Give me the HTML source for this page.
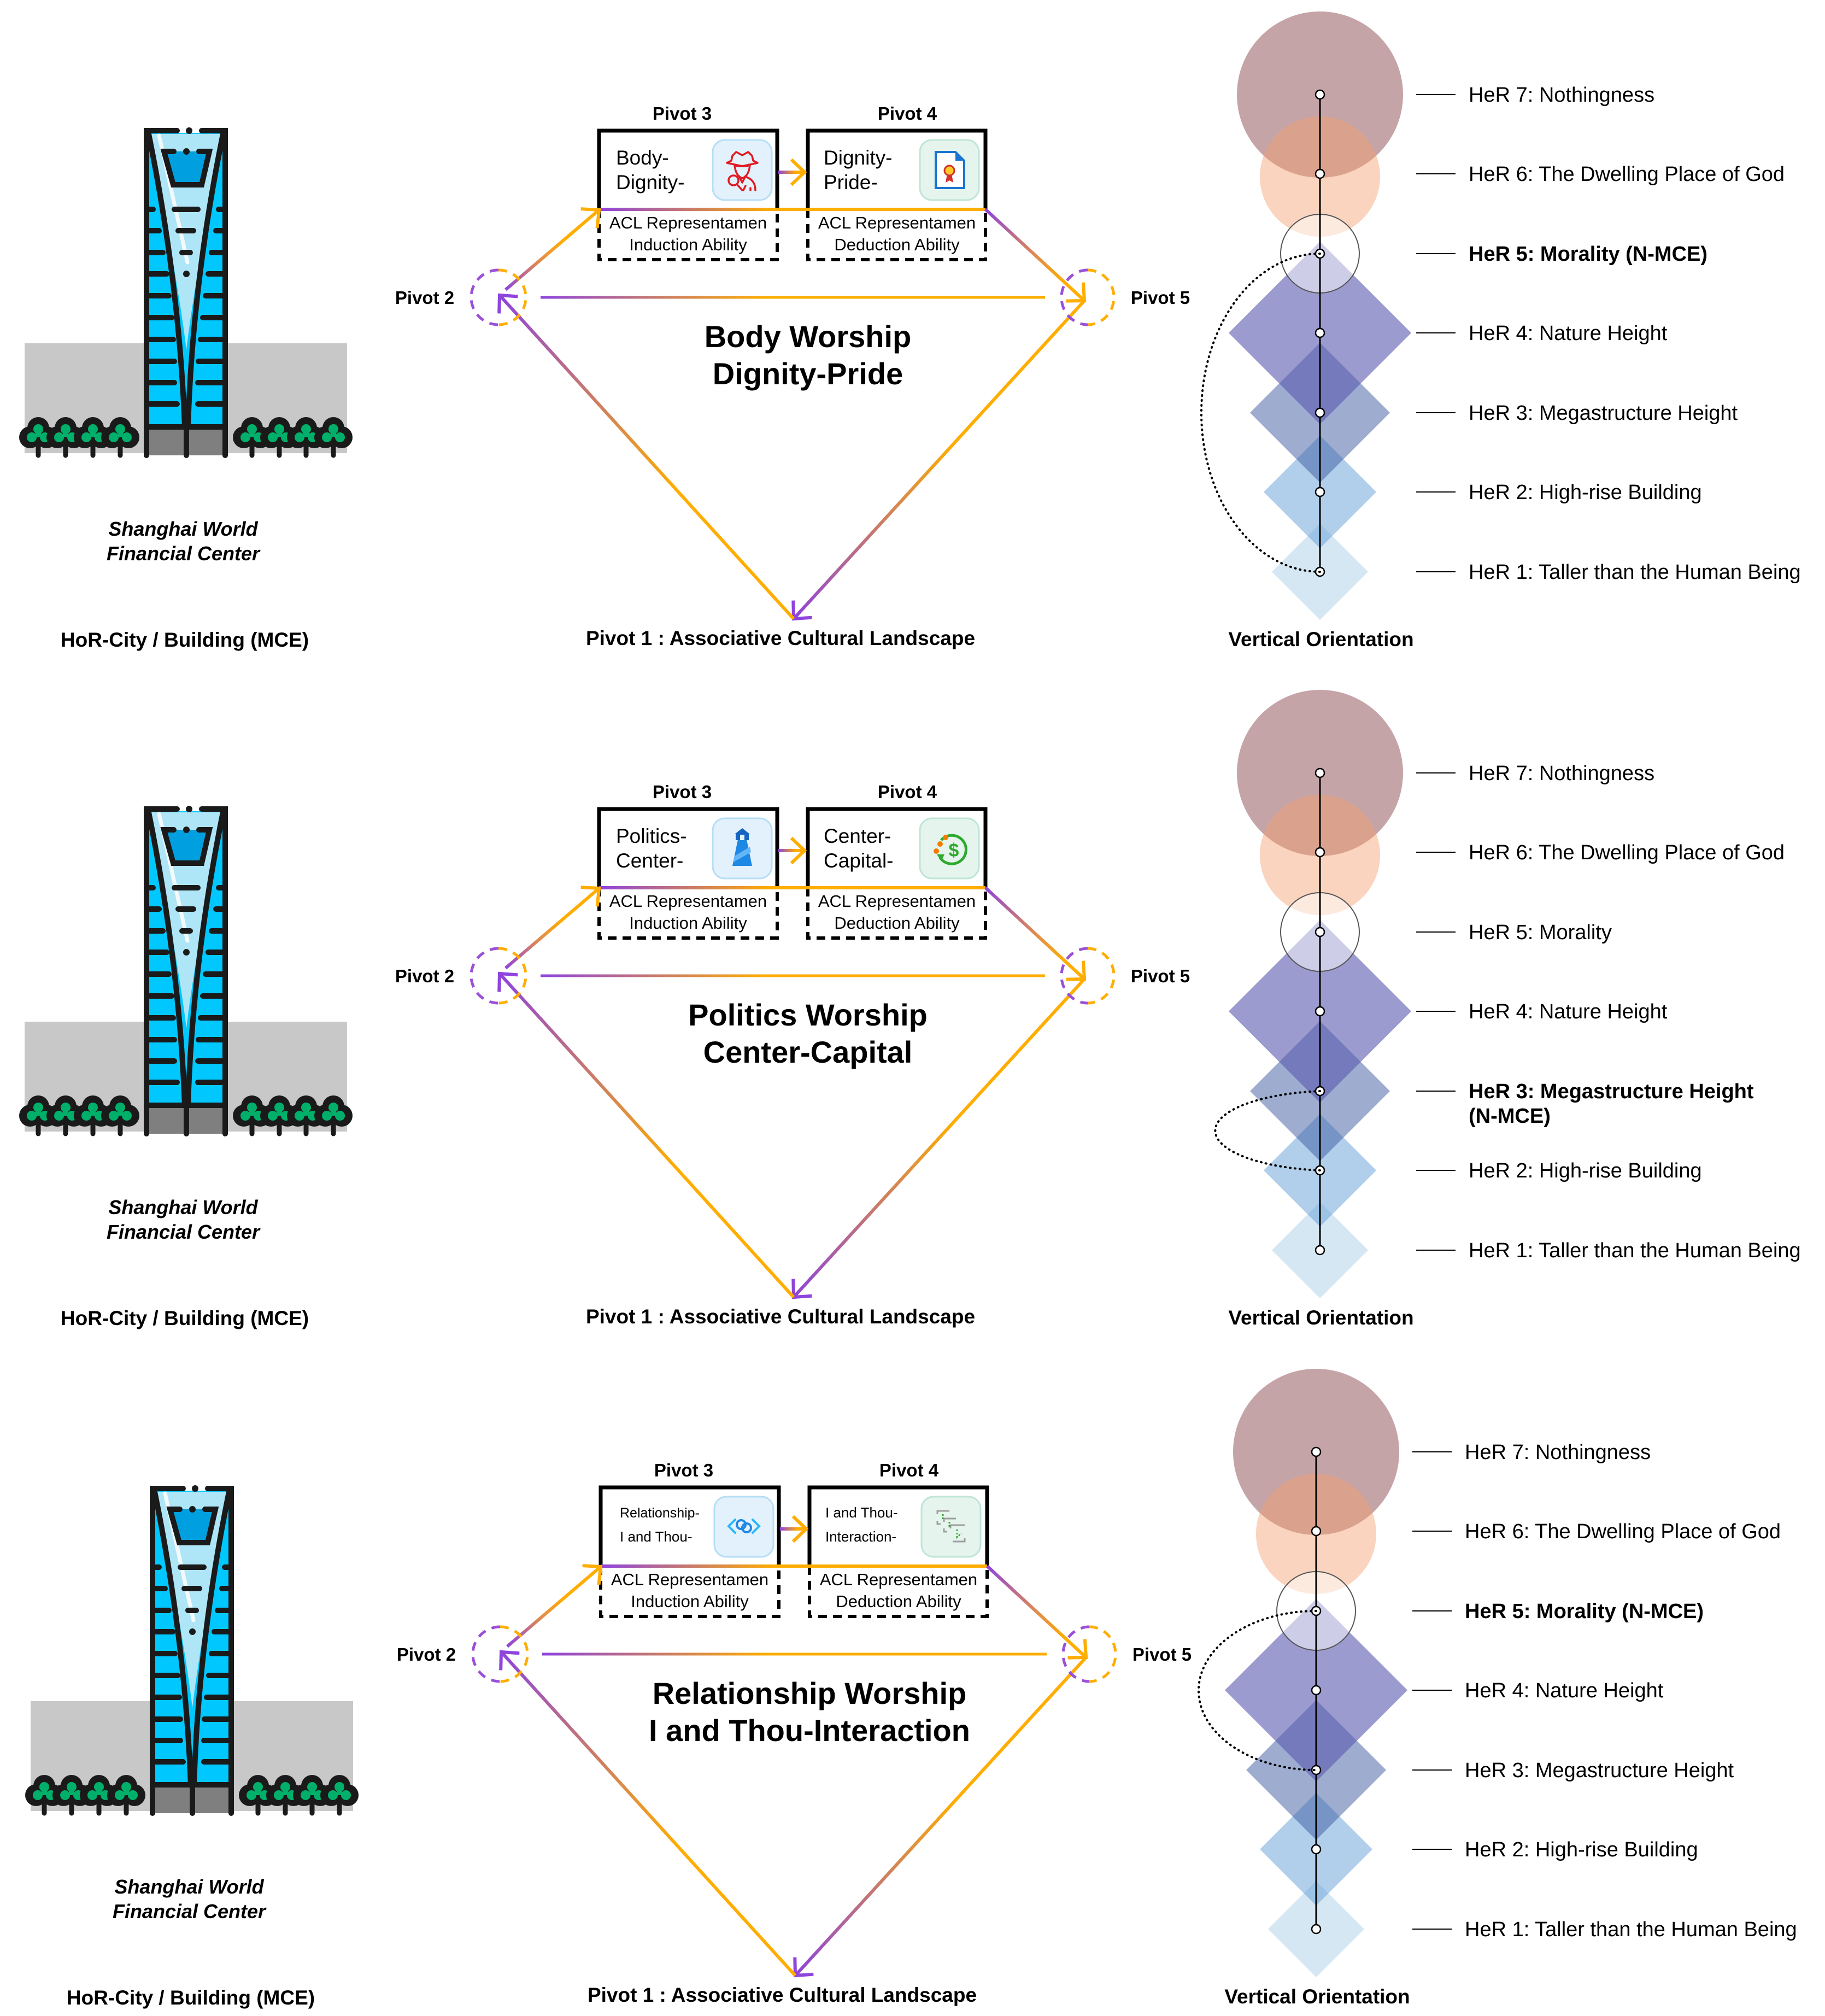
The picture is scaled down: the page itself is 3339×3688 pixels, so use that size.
<!DOCTYPE html>
<html><head><meta charset="utf-8">
<style>
html,body{margin:0;padding:0;background:#fff;}
svg{display:block;}
text{font-family:"Liberation Sans",Arial,sans-serif;fill:#000;}
.b{font-weight:bold;}
</style></head>
<body>
<svg width="3339" height="3688" viewBox="0 0 3339 3688" xmlns="http://www.w3.org/2000/svg">
<defs>
  <marker id="mo" markerUnits="userSpaceOnUse" markerWidth="50" markerHeight="50" refX="40" refY="25" orient="auto">
    <path d="M18,4 L40,25 L18,46" fill="none" stroke="#ffad00" stroke-width="6" stroke-linecap="square"/>
  </marker>
  <marker id="mp" markerUnits="userSpaceOnUse" markerWidth="50" markerHeight="50" refX="40" refY="25" orient="auto">
    <path d="M18,4 L40,25 L18,46" fill="none" stroke="#8e44dd" stroke-width="6" stroke-linecap="square"/>
  </marker>
  <linearGradient id="g1" gradientUnits="userSpaceOnUse" x1="925" y1="530" x2="1096" y2="383"><stop offset="0" stop-color="#8e44dd"/><stop offset="0.35" stop-color="#e08a50"/><stop offset="0.6" stop-color="#ffad00"/></linearGradient>
  <linearGradient id="g2" gradientUnits="userSpaceOnUse" x1="1803" y1="383" x2="1984" y2="550"><stop offset="0" stop-color="#8e44dd"/><stop offset="0.5" stop-color="#e08a50"/><stop offset="0.8" stop-color="#ffad00"/></linearGradient>
  <linearGradient id="g3" gradientUnits="userSpaceOnUse" x1="1984" y1="550" x2="1452" y2="1132"><stop offset="0" stop-color="#ffad00"/><stop offset="0.45" stop-color="#ffad00"/><stop offset="1" stop-color="#8e44dd"/></linearGradient>
  <linearGradient id="g4" gradientUnits="userSpaceOnUse" x1="1452" y1="1132" x2="914" y2="540"><stop offset="0" stop-color="#ffad00"/><stop offset="0.4" stop-color="#ffad00"/><stop offset="1" stop-color="#8e44dd"/></linearGradient>
  <linearGradient id="g5" gradientUnits="userSpaceOnUse" x1="989" y1="0" x2="1912" y2="0"><stop offset="0" stop-color="#8e44dd"/><stop offset="0.45" stop-color="#ffad00"/><stop offset="1" stop-color="#ffad00"/></linearGradient>
  <linearGradient id="g6" gradientUnits="userSpaceOnUse" x1="1096" y1="0" x2="1803" y2="0"><stop offset="0" stop-color="#8e44dd"/><stop offset="0.45" stop-color="#ffad00"/><stop offset="1" stop-color="#ffad00"/></linearGradient>
  <linearGradient id="g7" gradientUnits="userSpaceOnUse" x1="1424" y1="0" x2="1470" y2="0"><stop offset="0" stop-color="#8e44dd"/><stop offset="0.7" stop-color="#ffad00"/></linearGradient>

  <g id="tree">
    <path d="M0,805 L0,833" stroke="#1a1a1a" stroke-width="9" stroke-linecap="round"/>
    <circle cx="0" cy="783" r="20" fill="#1a1a1a"/>
    <circle cx="-15" cy="800" r="20" fill="#1a1a1a"/>
    <circle cx="15" cy="800" r="20" fill="#1a1a1a"/>
    <circle cx="0" cy="785" r="9" fill="#00b06a"/>
    <circle cx="-12" cy="800" r="9" fill="#00b06a"/>
    <circle cx="12" cy="800" r="9" fill="#00b06a"/>
    <rect x="-5" y="786" width="10" height="14" fill="#00b06a"/>
  </g>

  <g id="bld">
    <rect x="45" y="628" width="590" height="201" fill="#c8c8c8"/>
    <rect x="272" y="243" width="136" height="540" fill="#00c8ff"/>
    <path d="M272,245 L408,245 Q355,520 341,640 Q327,520 272,245 Z" fill="#aee6f8"/>
    <path d="M291,248 L343,480" stroke="#f4fafc" stroke-width="7" stroke-linecap="round"/>
    <rect x="272" y="781" width="136" height="52" fill="#7f7f7f"/>
    <polygon points="300,277 383,277 369,338 317,338" fill="#00a0e0"/>
    <g stroke="#1a1a1a" stroke-width="10" stroke-linecap="round" fill="none">
      <path d="M272,245 Q328,520 338,781"/>
      <path d="M408,245 Q352,520 344,781"/>
      <path d="M268,833 L268,239 L324,239"/>
      <path d="M369,239 L412,239 L412,833"/>
      <path d="M268,781 L412,781 M341,781 L341,833"/>
      <path d="M318,277 L300,277 L317,338 L369,338 L383,277 L364,277"/>
      <path d="M274,383 L280,383 M274,422 L291,422 M274,462 L298,462 M274,501 L305,501 M274,541 L309,541 M274,581 L314,581 M274,621 L317,621 M274,661 L319,661 M274,700 L319,700 M274,739 L324,739"/>
      <path d="M406,383 L400,383 M406,422 L395,422 M406,462 L387,462 M406,501 L381,501 M406,541 L376,541 M406,581 L371,581 M406,621 L367,621 M406,661 L363,661 M406,700 L362,700 M406,739 L362,739"/>
      <path d="M319,383 L362,383 M326,422 L354,422 M333,462 L348,462"/>
    </g>
    <circle cx="346" cy="239" r="6" fill="#1a1a1a"/>
    <circle cx="341" cy="277" r="6" fill="#1a1a1a"/>
    <circle cx="341" cy="501" r="6" fill="#1a1a1a"/>
    <use href="#tree" x="70"/><use href="#tree" x="120"/><use href="#tree" x="170"/><use href="#tree" x="220"/>
    <use href="#tree" x="461"/><use href="#tree" x="511"/><use href="#tree" x="560"/><use href="#tree" x="610"/>
  </g>

  <g id="her">
    <circle cx="2420" cy="173" r="152" fill="rgba(150,90,95,0.55)"/>
    <circle cx="2420" cy="323" r="110" fill="rgba(245,160,110,0.45)"/>
    <path d="M2420,958 L2508,1046 L2420,1134 L2332,1046 Z" fill="rgba(150,195,225,0.4)"/>
    <path d="M2420,797 L2523,900 L2420,1003 L2317,900 Z" fill="rgba(100,160,215,0.5)"/>
    <path d="M2420,627 L2548,755 L2420,883 L2292,755 Z" fill="rgba(60,90,160,0.5)"/>
    <path d="M2420,442 L2587,609 L2420,776 L2253,609 Z" fill="rgba(90,88,175,0.6)"/>
    <circle cx="2420" cy="464" r="72" fill="rgba(255,255,255,0.5)" stroke="#555" stroke-width="2"/>
    <line x1="2420" y1="173" x2="2420" y2="1046" stroke="#000" stroke-width="3"/>
    <g fill="#fff" stroke="#000" stroke-width="2.5">
      <circle cx="2420" cy="173" r="8"/><circle cx="2420" cy="318" r="8"/><circle cx="2420" cy="464" r="8"/>
      <circle cx="2420" cy="609" r="8"/><circle cx="2420" cy="755" r="8"/><circle cx="2420" cy="900" r="8"/><circle cx="2420" cy="1046" r="8"/>
    </g>
    <g stroke="#000" stroke-width="2">
      <line x1="2596" y1="173" x2="2668" y2="173"/><line x1="2596" y1="318" x2="2668" y2="318"/><line x1="2596" y1="464" x2="2668" y2="464"/>
      <line x1="2596" y1="609" x2="2668" y2="609"/><line x1="2596" y1="755" x2="2668" y2="755"/><line x1="2596" y1="900" x2="2668" y2="900"/><line x1="2596" y1="1046" x2="2668" y2="1046"/>
    </g>
  </g>

  <g id="piv">
    <g fill="none" stroke="#000">
      <path d="M1096,383 L1096,239 L1422,239 L1422,383" stroke-width="7"/>
      <path d="M1478,383 L1478,239 L1803,239 L1803,383" stroke-width="7"/>
      <path d="M1096,383 L1096,475 L1422,475 L1422,383" stroke-width="6" stroke-dasharray="16 11"/>
      <path d="M1478,383 L1478,475 L1803,475 L1803,383" stroke-width="6" stroke-dasharray="16 11"/>
    </g>
    <rect x="1304" y="256" width="108" height="110" rx="22" fill="#e2f1fc" stroke="#b6def6" stroke-width="3"/>
    <rect x="1683" y="256" width="108" height="110" rx="22" fill="#e5f4ed" stroke="#bfe5d6" stroke-width="3"/>
    <g fill="none" stroke-width="6">
      <line x1="1096" y1="383" x2="1803" y2="383" stroke="url(#g6)"/>
      <line x1="1424" y1="315" x2="1472" y2="315" stroke="url(#g7)" marker-end="url(#mo)"/>
      <line x1="989" y1="544" x2="1912" y2="544" stroke="url(#g5)" stroke-width="5"/>
      <line x1="925" y1="530" x2="1096" y2="384" stroke="url(#g1)" marker-end="url(#mo)"/>
      <line x1="1803" y1="383" x2="1984" y2="550" stroke="url(#g2)" marker-end="url(#mo)"/>
      <line x1="1984" y1="550" x2="1452" y2="1132" stroke="url(#g3)" marker-end="url(#mp)"/>
      <line x1="1452" y1="1132" x2="914" y2="540" stroke="url(#g4)" marker-end="url(#mp)"/>
    </g>
    <g fill="none" stroke-width="5" stroke-dasharray="16 12">
      <path d="M912,494 A50,50 0 0 0 912,594" stroke="#9a4fd8"/>
      <path d="M912,494 A50,50 0 0 1 912,594" stroke="#ffad00"/>
      <path d="M1990,494 A48,50 0 0 0 1990,594" stroke="#9a4fd8"/>
      <path d="M1990,494 A48,50 0 0 1 1990,594" stroke="#ffad00"/>
    </g>
    <text class="b" x="777" y="556" font-size="33" text-anchor="middle">Pivot 2</text>
    <text class="b" x="2123" y="556" font-size="33" text-anchor="middle">Pivot 5</text>
    <text class="b" x="1248" y="219" font-size="33" text-anchor="middle">Pivot 3</text>
    <text class="b" x="1660" y="219" font-size="33" text-anchor="middle">Pivot 4</text>
    <text x="1259" y="418" font-size="31" text-anchor="middle">ACL Representamen</text>
    <text x="1259" y="458" font-size="31" text-anchor="middle">Induction Ability</text>
    <text x="1641" y="418" font-size="31" text-anchor="middle">ACL Representamen</text>
    <text x="1641" y="458" font-size="31" text-anchor="middle">Deduction Ability</text>
    <text class="b" x="1428" y="1180" font-size="37" text-anchor="middle">Pivot 1 : Associative Cultural Landscape</text>
  </g>

  <g id="bldtext">
    <text class="b" x="335" y="980" font-size="36" font-style="italic" text-anchor="middle">Shanghai World</text>
    <text class="b" x="335" y="1025" font-size="36" font-style="italic" text-anchor="middle">Financial Center</text>
    <text class="b" x="338" y="1183" font-size="37" text-anchor="middle">HoR-City / Building (MCE)</text>
  </g>
</defs>

<!-- ========== SECTION 1 ========== -->
<use href="#bld"/>
<use href="#bldtext"/>
<use href="#piv"/>
<text x="1127" y="301" font-size="37">Body-</text>
<text x="1127" y="346" font-size="37">Dignity-</text>
<text x="1507" y="301" font-size="37">Dignity-</text>
<text x="1507" y="346" font-size="37">Pride-</text>
<g fill="none" stroke="#e01b24" stroke-width="3.5" stroke-linejoin="round" stroke-linecap="round">
  <path d="M1340,285 L1347,278 L1358,284 L1369,278 L1376,285 L1378,294 L1386,298 L1358,304 L1330,298 L1338,294 Z"/>
  <path d="M1344,302 Q1346,322 1358,326 Q1370,322 1372,302"/>
  <path d="M1348,304 L1368,304"/>
  <circle cx="1342" cy="330" r="9"/><path d="M1348,337 L1358,348"/>
  <path d="M1352,322 L1358,334 L1364,322 M1366,324 Q1382,330 1382,348 M1364,340 L1360,348 M1373,344 L1373,348"/>
</g>
<g>
  <path d="M1712,278 L1748,278 L1764,294 L1764,344 L1712,344 Z" fill="#fff" stroke="#1976d2" stroke-width="4"/>
  <path d="M1748,278 L1748,294 L1764,294 Z" fill="#1976d2"/>
  <path d="M1733,318 L1730,334 L1737,330 L1744,334 L1741,318 Z" fill="#d32f2f"/>
  <circle cx="1737" cy="312" r="9" fill="#ffca28" stroke="#d32f2f" stroke-width="3"/>
</g>
<text class="b" x="1478" y="635" font-size="56" text-anchor="middle">Body Worship</text>
<text class="b" x="1478" y="703" font-size="56" text-anchor="middle">Dignity-Pride</text>
<g transform="translate(-5,0)">
<use href="#her"/>
<path d="M2420,464 A217,291 0 0 0 2420,1046" fill="none" stroke="#000" stroke-width="4" stroke-dasharray="1 8" stroke-linecap="round"/>
<g font-size="38">
  <text x="2692" y="186">HeR 7: Nothingness</text>
  <text x="2692" y="331">HeR 6: The Dwelling Place of God</text>
  <text class="b" x="2692" y="477">HeR 5: Morality (N-MCE)</text>
  <text x="2692" y="622">HeR 4: Nature Height</text>
  <text x="2692" y="768">HeR 3: Megastructure Height</text>
  <text x="2692" y="913">HeR 2: High-rise Building</text>
  <text x="2692" y="1059">HeR 1: Taller than the Human Being</text>
</g>
<text class="b" x="2422" y="1182" font-size="37" text-anchor="middle">Vertical Orientation</text>
</g>

<!-- ========== SECTION 2 ========== -->
<g transform="translate(0,1241)">
<use href="#bld"/>
<use href="#bldtext"/>
<use href="#piv"/>
<text x="1127" y="301" font-size="37">Politics-</text>
<text x="1127" y="346" font-size="37">Center-</text>
<text x="1507" y="301" font-size="37">Center-</text>
<text x="1507" y="346" font-size="37">Capital-</text>
<g>
  <path d="M1340,343 L1350,295 L1366,295 L1376,343 Z" fill="#1e88e5"/>
  <path d="M1344,325 L1372,308 L1374,318 L1342,336 Z" fill="#64b5f6"/>
  <rect x="1346" y="284" width="24" height="12" fill="#1565c0"/>
  <path d="M1344,285 L1358,274 L1372,285 Z" fill="#1565c0"/>
  <rect x="1354" y="286" width="8" height="10" fill="#e2f1fc"/>
</g>
<g>
  <path d="M1722,296 A26,26 0 1 1 1720,328" fill="none" stroke="#2eaa2e" stroke-width="5"/>
  <path d="M1714,322 L1722,334 L1728,322 Z" fill="#2eaa2e"/>
  <text class="b" x="1745" y="326" font-size="34" text-anchor="middle" style="fill:#2eaa2e">$</text>
  <circle cx="1720" cy="303" r="5" fill="#f57c00"/><circle cx="1730" cy="291" r="5" fill="#f57c00"/><circle cx="1713" cy="316" r="5" fill="#f57c00"/>
</g>
<text class="b" x="1478" y="635" font-size="56" text-anchor="middle">Politics Worship</text>
<text class="b" x="1478" y="703" font-size="56" text-anchor="middle">Center-Capital</text>
<g transform="translate(-5,0)">
<use href="#her"/>
<path d="M2420,755 A217,73 0 0 0 2420,900" fill="none" stroke="#000" stroke-width="4" stroke-dasharray="1 8" stroke-linecap="round"/>
<g font-size="38">
  <text x="2692" y="186">HeR 7: Nothingness</text>
  <text x="2692" y="331">HeR 6: The Dwelling Place of God</text>
  <text x="2692" y="477">HeR 5: Morality</text>
  <text x="2692" y="622">HeR 4: Nature Height</text>
  <text class="b" x="2692" y="768">HeR 3: Megastructure Height</text>
  <text class="b" x="2692" y="813">(N-MCE)</text>
  <text x="2692" y="913">HeR 2: High-rise Building</text>
  <text x="2692" y="1059">HeR 1: Taller than the Human Being</text>
</g>
<text class="b" x="2422" y="1182" font-size="37" text-anchor="middle">Vertical Orientation</text>
</g>
</g>

<!-- ========== SECTION 3 ========== -->
<g transform="translate(11,2484)"><use href="#bld"/><use href="#bldtext"/></g>
<g transform="translate(3,2482)">
<use href="#piv"/>
<text x="1131" y="294" font-size="25">Relationship-</text>
<text x="1131" y="338" font-size="26">I and Thou-</text>
<text x="1507" y="294" font-size="26">I and Thou-</text>
<text x="1507" y="338" font-size="26">Interaction-</text>
<g fill="none" stroke="#1e88e5" stroke-width="4" stroke-linecap="round">
  <path d="M1342,298 L1330,310 L1342,322" stroke="#29b6f6"/>
  <path d="M1374,298 L1386,310 L1374,322" stroke="#29b6f6"/>
  <circle cx="1353" cy="307" r="8"/><circle cx="1363" cy="313" r="8"/>
</g>
<g fill="none" stroke="#9e9e9e" stroke-width="3">
  <path d="M1712,288 L1712,282 L1734,282 M1712,300 L1712,306 L1718,306"/>
  <path d="M1724,302 L1724,296 L1746,296 M1724,314 L1724,320 L1730,320"/>
  <path d="M1736,314 L1736,308 L1762,308 M1762,332 L1762,338 L1740,338"/>
  <path d="M1722,288 L1722,300 M1734,302 L1734,314 M1748,316 L1748,330 L1756,323" stroke="#2eaa2e" stroke-dasharray="3 3"/>
</g>
<text class="b" x="1478" y="635" font-size="56" text-anchor="middle">Relationship Worship</text>
<text class="b" x="1478" y="703" font-size="56" text-anchor="middle">I and Thou-Interaction</text>
</g>
<g transform="translate(-12,2483)">
<use href="#her"/>
<path d="M2420,464 A215,145.5 0 0 0 2420,755" fill="none" stroke="#000" stroke-width="4" stroke-dasharray="1 8" stroke-linecap="round"/>
<g font-size="38">
  <text x="2692" y="186">HeR 7: Nothingness</text>
  <text x="2692" y="331">HeR 6: The Dwelling Place of God</text>
  <text class="b" x="2692" y="477">HeR 5: Morality (N-MCE)</text>
  <text x="2692" y="622">HeR 4: Nature Height</text>
  <text x="2692" y="768">HeR 3: Megastructure Height</text>
  <text x="2692" y="913">HeR 2: High-rise Building</text>
  <text x="2692" y="1059">HeR 1: Taller than the Human Being</text>
</g>
<text class="b" x="2422" y="1182" font-size="37" text-anchor="middle">Vertical Orientation</text>
</g>
</svg>
</body></html>
